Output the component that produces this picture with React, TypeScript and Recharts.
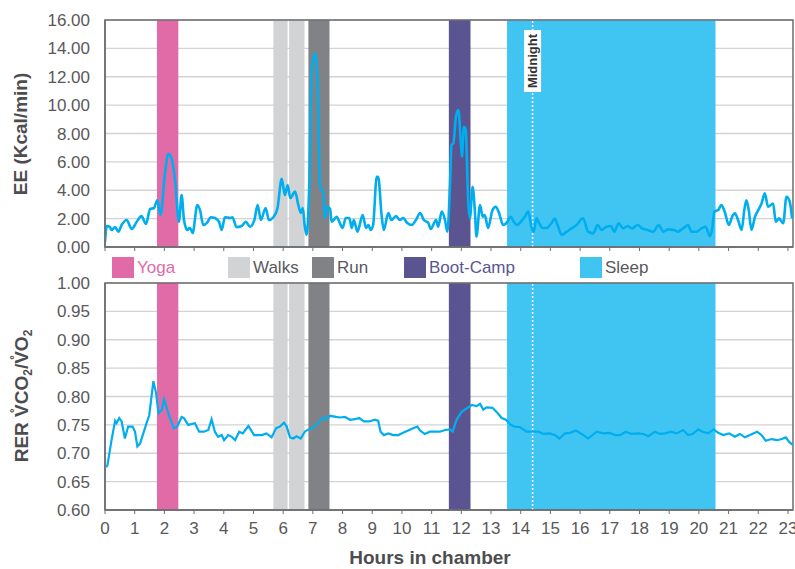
import React from 'react';
import { CartesianGrid, Line, LineChart, ReferenceArea, ReferenceLine, XAxis, YAxis } from 'recharts';

// hours in chamber for each EE reading
const eeHours = [
  0, 0.06, 0.17, 0.22, 0.34, 0.45, 0.56, 0.73, 0.9, 1.07, 1.23, 1.38, 1.52, 1.65, 1.76, 1.87, 2.02, 2.13, 2.24, 2.36,
  2.49, 2.58, 2.66, 2.77, 2.86, 2.95, 3.11, 3.2, 3.31, 3.44, 3.56, 3.7, 3.84, 3.93, 4.04, 4.21, 4.29, 4.43, 4.6, 4.74,
  4.88, 5.03, 5.14, 5.25, 5.41, 5.52, 5.67, 5.81, 5.95, 6.06, 6.15, 6.24, 6.4, 6.51, 6.6, 6.66, 6.73, 6.79, 6.87, 6.96,
  7.01, 7.07, 7.13, 7.18, 7.24, 7.35, 7.41, 7.48, 7.58, 7.63, 7.74, 7.8, 7.91, 8.0, 8.11, 8.23, 8.31, 8.38, 8.5, 8.68,
  8.79, 8.87, 8.95, 9.03, 9.15, 9.2, 9.32, 9.39, 9.54, 9.65, 9.8, 9.93, 10.04, 10.18, 10.33, 10.47, 10.61, 10.74, 10.89,
  10.97, 11.15, 11.22, 11.34, 11.45, 11.53, 11.62, 11.67, 11.73, 11.82, 11.9, 11.98, 12.02, 12.09, 12.15, 12.23, 12.29,
  12.38, 12.46, 12.51, 12.63, 12.72, 12.79, 12.9, 13.05, 13.16, 13.27, 13.41, 13.52, 13.66, 13.77, 13.88, 14.0, 14.14,
  14.25, 14.37, 14.44, 14.53, 14.62, 14.74, 14.87, 15.04, 15.15, 15.25, 15.38, 15.55, 15.71, 15.88, 16.1, 16.27, 16.44,
  16.59, 16.72, 16.89, 17.04, 17.15, 17.3, 17.45, 17.6, 17.75, 17.94, 18.09, 18.27, 18.46, 18.65, 18.8, 18.97, 19.17,
  19.28, 19.47, 19.64, 19.75, 19.92, 20.09, 20.23, 20.37, 20.45, 20.52, 20.65, 20.76, 20.87, 21.01, 21.12, 21.21, 21.32,
  21.44, 21.53, 21.6, 21.68, 21.77, 21.89, 22.0, 22.11, 22.22, 22.33, 22.5, 22.59, 22.7, 22.84, 22.95, 23.06, 23.14,
];

// energy expenditure, Kcal/min
const eeValues = [
  0.37, 1.48, 1.4, 1.2, 1.4, 1.08, 1.55, 1.9, 1.27, 1.78, 2.18, 1.62, 2.68, 2.75, 3.3, 2.25, 5.2, 6.55, 6.25, 4.7,
  1.78, 3.66, 1.9, 1.2, 1.36, 0.98, 2.96, 2.6, 1.55, 1.71, 2.1, 2.04, 1.78, 1.2, 2.1, 2.04, 2.1, 1.4, 1.48, 1.78,
  1.43, 1.9, 2.96, 1.9, 2.75, 1.9, 2.1, 2.75, 4.8, 3.66, 4.37, 3.45, 3.9, 2.96, 2.4, 2.75, 1.43, 0.85, 3.8, 12.5,
  13.2, 13.66, 12.7, 9.9, 4.25, 3.9, 2.04, 2.84, 2.7, 1.78, 2.0, 2.13, 1.69, 1.34, 2.04, 2.04, 1.34, 1.9, 1.08, 2.25,
  1.34, 1.55, 1.2, 1.55, 4.95, 4.95, 2.13, 1.2, 2.4, 1.9, 2.18, 1.9, 2.04, 1.69, 1.55, 1.9, 2.4, 1.9, 1.69,
  1.27, 1.9, 1.43, 2.49, 1.9, 1.08, 4.5, 7.2, 7.3, 9.2, 9.65, 7.5, 6.36, 8.47, 8.24, 3.3, 2.02,
  4.25, 2.4, 0.73, 2.96, 2.13, 2.25, 1.34, 2.6, 2.84, 2.4, 1.55, 1.69, 2.13, 1.78, 1.55, 1.78, 2.13,
  2.49, 1.34, 1.08, 2.04, 1.69, 1.34, 1.34, 1.69, 2.0, 1.5, 0.85, 1.08, 1.31, 1.55, 2.02, 1.08, 0.96,
  1.55, 1.2, 1.43, 1.48, 1.08, 1.67, 1.31, 1.48, 1.31, 1.55, 1.31, 1.2, 1.08, 1.55, 1.08, 1.24, 1.2,
  1.08, 1.31, 1.55, 1.08, 1.08, 1.31, 1.43, 0.77, 1.31, 2.49, 2.6, 2.96, 2.49, 1.55, 2.13, 2.37, 1.9,
  1.2, 2.6, 3.3, 2.6, 1.2, 2.13, 2.6, 3.07, 3.78, 2.84, 3.07, 1.78, 2.02, 1.67, 3.54, 3.19, 2.02,
];

// hours in chamber for each RER reading
const rerHours = [
  0.03, 0.08, 0.22, 0.34, 0.39, 0.48, 0.56, 0.67, 0.78, 0.93, 1.01, 1.09, 1.18, 1.29, 1.4, 1.49, 1.63, 1.72, 1.8, 1.91,
  1.99, 2.1, 2.21, 2.32, 2.43, 2.58, 2.66, 2.8, 3.03, 3.17, 3.33, 3.48, 3.59, 3.7, 3.81, 3.93, 4.01, 4.15, 4.27, 4.38,
  4.52, 4.64, 4.83, 5.02, 5.28, 5.44, 5.61, 5.76, 5.89, 6.03, 6.12, 6.23, 6.34, 6.45, 6.59, 6.73, 6.85, 6.99, 7.18, 7.37,
  7.46, 7.58, 7.78, 7.91, 8.08, 8.25, 8.42, 8.56, 8.72, 8.9, 9.09, 9.2, 9.28, 9.39, 9.54, 9.71, 9.88, 10.04, 10.21,
  10.38, 10.52, 10.61, 10.77, 10.94, 11.11, 11.28, 11.45, 11.62, 11.71, 11.84, 12.01, 12.18, 12.35, 12.52, 12.63, 12.74,
  12.85, 13.05, 13.22, 13.36, 13.5, 13.66, 13.8, 13.97, 14.2, 14.42, 14.6, 14.76, 14.98, 15.15, 15.3, 15.49, 15.66,
  15.86, 16.05, 16.27, 16.56, 16.78, 17.0, 17.17, 17.34, 17.54, 17.73, 17.96, 18.13, 18.3, 18.52, 18.69, 18.86, 19.05,
  19.25, 19.47, 19.64, 19.79, 19.98, 20.12, 20.31, 20.5, 20.65, 20.82, 21.02, 21.21, 21.38, 21.55, 21.72, 21.96, 22.11,
  22.25, 22.45, 22.64, 22.79, 22.93, 23.04, 23.15,
];

// respiratory exchange ratio
const rerValues = [
  0.676, 0.678, 0.723, 0.757, 0.753, 0.762, 0.756, 0.726, 0.747, 0.747, 0.738, 0.712, 0.717, 0.735, 0.753, 0.767, 0.827,
  0.806, 0.771, 0.776, 0.795, 0.776, 0.759, 0.744, 0.747, 0.764, 0.762, 0.75, 0.753, 0.738, 0.738, 0.741, 0.76, 0.738,
  0.729, 0.732, 0.723, 0.732, 0.729, 0.723, 0.738, 0.735, 0.748, 0.732, 0.732, 0.735, 0.728, 0.744, 0.747, 0.754, 0.747,
  0.728, 0.726, 0.73, 0.726, 0.738, 0.742, 0.744, 0.754, 0.763, 0.76, 0.766, 0.764, 0.763, 0.764, 0.759, 0.76, 0.762,
  0.756, 0.756, 0.759, 0.757, 0.738, 0.732, 0.735, 0.732, 0.732, 0.736, 0.74, 0.744, 0.747, 0.74, 0.734, 0.738, 0.738,
  0.738, 0.741, 0.742, 0.738, 0.759, 0.773, 0.779, 0.785, 0.783, 0.787, 0.777, 0.781, 0.78, 0.771, 0.762, 0.759, 0.75,
  0.747, 0.746, 0.738, 0.738, 0.738, 0.734, 0.735, 0.732, 0.726, 0.735, 0.736, 0.74, 0.734, 0.726, 0.738, 0.735, 0.736,
  0.732, 0.732, 0.738, 0.734, 0.735, 0.734, 0.73, 0.738, 0.734, 0.735, 0.738, 0.735, 0.741, 0.732, 0.734, 0.742, 0.738,
  0.735, 0.742, 0.736, 0.732, 0.735, 0.729, 0.734, 0.728, 0.732, 0.738, 0.732, 0.722, 0.725, 0.723, 0.725, 0.728, 0.72,
  0.715,
];

// activity periods (hours)
const bandNames = ['Yoga', 'Walks', 'Walks', 'Run', 'Boot-Camp', 'Sleep'];
const bandStarts = [1.75, 5.67, 6.2, 6.85, 11.58, 13.54];
const bandEnds = [2.47, 6.15, 6.72, 7.56, 12.31, 20.56];
const legendNames = ['Yoga', 'Walks', 'Run', 'Boot-Camp', 'Sleep'];
const midnightHour = 14.4;

const hourTicks = [0, 1, 2, 3, 4, 5, 6, 7, 8, 9, 10, 11, 12, 13, 14, 15, 16, 17, 18, 19, 20, 21, 22, 23];
const eeTicks = [0, 2, 4, 6, 8, 10, 12, 14, 16];
const rerTicks = [0.6, 0.65, 0.7, 0.75, 0.8, 0.85, 0.9, 0.95, 1.0];

const HOURS_MAX = 23.17;

const bandColor: Record<string, string> = {
  Yoga: '#e16ba7',
  Walks: '#d1d3d4',
  Run: '#808285',
  'Boot-Camp': '#5a5591',
  Sleep: '#40c5f2',
};
const legendTextColor: Record<string, string> = {
  Yoga: '#e16ba7',
  Walks: '#58595b',
  Run: '#58595b',
  'Boot-Camp': '#5a5591',
  Sleep: '#58595b',
};
const legendX = [112, 228, 312, 404, 580];

const FONT = '"Liberation Sans", Arial, sans-serif';
const LINE = '#00aeef';
const FRAME = '#6d6e71';
const TEXT = '#58595b';

const eeData = eeHours.map((h, i) => ({ h, v: eeValues[i] }));
const rerData = rerHours.map((h, i) => ({ h, v: rerValues[i] }));

const tickStyle = { fontFamily: FONT, fontSize: 17, fill: TEXT };

const MidnightTag = (props: any) => {
  const vb = props.viewBox || {};
  const cx = (vb.x ?? 0) + (vb.width ?? 0) / 2;
  const top = (vb.y ?? 0) + 10;
  const tx = cx + 4.5;
  const ty = top + 31;
  return (
    <g>
      <rect x={cx - 8.5} y={top} width={17} height={62} fill="#fff" />
      <text
        x={tx}
        y={ty}
        transform={`rotate(-90, ${tx}, ${ty})`}
        textAnchor="middle"
        fontFamily={FONT}
        fontWeight="bold"
        fontSize={13}
        fill="#333"
      >
        Midnight
      </text>
    </g>
  );
};

const renderBands = () =>
  bandNames.map((name, i) => (
    <ReferenceArea
      key={`${name}-${i}`}
      x1={bandStarts[i]}
      x2={bandEnds[i]}
      fill={bandColor[name]}
      fillOpacity={1}
      stroke="none"
    />
  ));

const App = () => {
  return (
    <div style={{ position: 'absolute', left: 0, top: 0, width: 795, height: 569, background: '#fff' }}>
      <div style={{ position: 'absolute', left: 0, top: 0 }}>
        <LineChart width={795} height={257} data={eeData} margin={{ top: 20, right: 2, left: 45, bottom: 0 }}>
          <CartesianGrid vertical={false} stroke="#d1d3d4" strokeWidth={1.3} />
          {renderBands()}
          <ReferenceLine x={midnightHour} stroke="#fff" strokeWidth={1.5} strokeDasharray="2 2" label={MidnightTag} />
          <ReferenceArea x1={0} x2={HOURS_MAX} y1={0} y2={16} fill="none" stroke={FRAME} strokeWidth={1.5} />
          <XAxis
            dataKey="h"
            type="number"
            domain={[0, HOURS_MAX]}
            ticks={hourTicks}
            allowDataOverflow
            height={10}
            tickSize={4}
            tickFormatter={() => ''}
            stroke={FRAME}
            axisLine={{ stroke: FRAME, strokeWidth: 1.5 }}
            tickLine={{ stroke: FRAME }}
          />
          <YAxis
            type="number"
            domain={[0, 16]}
            ticks={eeTicks}
            width={60}
            tickSize={15}
            tickMargin={0}
            tickLine={false}
            axisLine={{ stroke: FRAME, strokeWidth: 1.5 }}
            tick={tickStyle}
            tickFormatter={(v: number) => v.toFixed(2)}
          />
          <Line
            type="monotone"
            dataKey="v"
            stroke={LINE}
            strokeWidth={2.6}
            dot={false}
            isAnimationActive={false}
          />
        </LineChart>
      </div>

      <div style={{ position: 'absolute', left: 0, top: 263 }}>
        <LineChart width={795} height={277} data={rerData} margin={{ top: 20, right: 2, left: 45, bottom: 0 }}>
          <CartesianGrid vertical={false} stroke="#d1d3d4" strokeWidth={1.3} />
          {renderBands()}
          <ReferenceLine x={midnightHour} stroke="#fff" strokeWidth={1.5} strokeDasharray="2 2" />
          <ReferenceArea x1={0} x2={HOURS_MAX} y1={0.6} y2={1} fill="none" stroke={FRAME} strokeWidth={1.5} />
          <XAxis
            dataKey="h"
            type="number"
            domain={[0, HOURS_MAX]}
            ticks={hourTicks}
            allowDataOverflow
            height={30}
            tickSize={4}
            tickMargin={8}
            axisLine={{ stroke: FRAME, strokeWidth: 1.5 }}
            tickLine={{ stroke: FRAME }}
            tick={tickStyle}
            interval={0}
          />
          <YAxis
            type="number"
            domain={[0.6, 1]}
            ticks={rerTicks}
            width={60}
            tickSize={15}
            tickMargin={0}
            tickLine={false}
            axisLine={{ stroke: FRAME, strokeWidth: 1.5 }}
            tick={tickStyle}
            tickFormatter={(v: number) => v.toFixed(2)}
            allowDataOverflow
          />
          <Line
            type="linear"
            dataKey="v"
            stroke={LINE}
            strokeWidth={2.2}
            dot={false}
            isAnimationActive={false}
          />
        </LineChart>
      </div>

      <svg
        width={795}
        height={569}
        style={{ position: 'absolute', left: 0, top: 0, pointerEvents: 'none' }}
      >
        {legendNames.map((name, i) => (
          <g key={name}>
            <rect x={legendX[i]} y={257} width={22} height={21} fill={bandColor[name]} />
            <text x={legendX[i] + 25} y={273} fontFamily={FONT} fontSize={17} fill={legendTextColor[name]}>
              {name}
            </text>
          </g>
        ))}
        <text
          x={27}
          y={134}
          transform="rotate(-90, 27, 134)"
          textAnchor="middle"
          fontFamily={FONT}
          fontWeight="bold"
          fontSize={19}
          fill="#4d4d4f"
        >
          EE (Kcal/min)
        </text>
        <text
          x={28}
          y={396}
          transform="rotate(-90, 28, 396)"
          textAnchor="middle"
          fontFamily={FONT}
          fontWeight="bold"
          fontSize={19}
          fill="#4d4d4f"
        >
          <tspan>RER V&#778;CO</tspan>
          <tspan dy={4} fontSize={12}>2</tspan>
          <tspan dy={-4}>/V&#778;O</tspan>
          <tspan dy={4} fontSize={12}>2</tspan>
        </text>
        <text x={430} y={564} textAnchor="middle" fontFamily={FONT} fontWeight="bold" fontSize={19} fill="#4d4d4f">
          Hours in chamber
        </text>
      </svg>
    </div>
  );
};

export default App;
